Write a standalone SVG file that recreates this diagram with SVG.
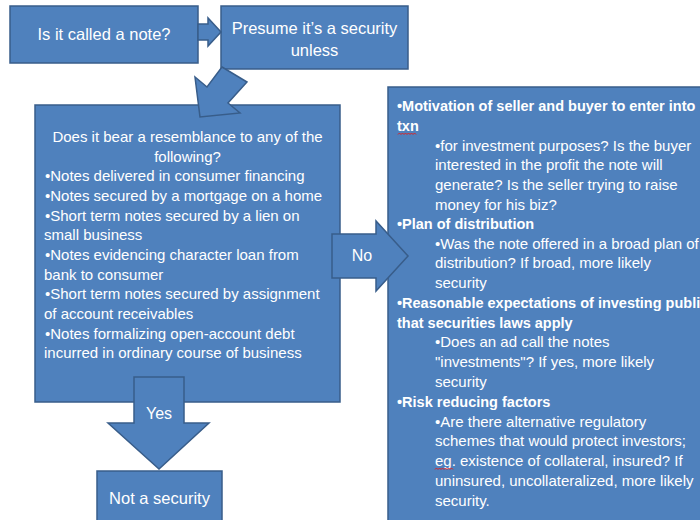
<svg xmlns="http://www.w3.org/2000/svg" width="700" height="520" viewBox="0 0 700 520">
<defs>
<style>
.box{fill:#4F81BD;stroke:#385D8A;stroke-width:1.5}
.arr{fill:#4F81BD;stroke:#385D8A;stroke-width:1.5;stroke-linejoin:miter}
text{font-family:"Liberation Sans",Arial,sans-serif;fill:#FFFFFF}
.big{font-size:16.5px;text-anchor:middle}
.lbl{font-size:16px;text-anchor:middle}
.body{font-size:15px}
.bold{font-size:14.5px;font-weight:bold}
.mid{text-anchor:middle}
.sq{fill:none;stroke:#E02020;stroke-width:1}
</style>
</defs>
<rect width="700" height="520" fill="#FFFFFF"/>
<g id="node-called-note">
<rect class="box" x="10" y="6" width="188" height="57"/>
<text class="big" x="104" y="40">Is it called a note?</text>
</g>
<g id="node-presume">
<rect class="box" x="221" y="6" width="187" height="63"/>
<text class="big" x="314.5" y="34">Presume it’s a security</text>
<text class="big" x="314.5" y="56">unless</text>
</g>
<g id="node-resemblance">
<rect class="box" x="35" y="105" width="305" height="297"/>
<g class="body">
<text class="mid" x="187.5" y="142">Does it bear a resemblance to any of the</text>
<text class="mid" x="187.5" y="162">following?</text>
<text x="45" y="181">•Notes delivered in consumer financing</text>
<text x="45" y="201">•Notes secured by a mortgage on a home</text>
<text x="45" y="221">•Short term notes secured by a lien on</text>
<text x="44" y="240">small business</text>
<text x="45" y="260">•Notes evidencing character loan from</text>
<text x="44" y="280">bank to consumer</text>
<text x="45" y="299">•Short term notes secured by assignment</text>
<text x="44" y="319">of account receivables</text>
<text x="45" y="339">•Notes formalizing open-account debt</text>
<text x="44" y="358">incurred in ordinary course of business</text>
</g>
</g>
<g id="node-factors">
<rect class="box" x="388" y="87" width="330" height="450"/>
<text class="bold" x="397" y="111">•Motivation of seller and buyer to enter into</text>
<text class="bold" x="397" y="131">txn</text>
<path class="sq" d="M398 134.5 l1.5 -1.5 l1.5 1.5 l1.5 -1.5 l1.5 1.5 l1.5 -1.5 l1.5 1.5 l1.5 -1.5 l1.5 1.5 l1.5 -1.5 l1.5 1.5 l1.5 -1.5 l1.5 1.5"/>
<g class="body">
<text x="435" y="151">•for investment purposes? Is the buyer</text>
<text x="435" y="170">interested in the profit the note will</text>
<text x="435" y="190">generate? Is the seller trying to raise</text>
<text x="435" y="210">money for his biz?</text>
</g>
<text class="bold" x="397" y="229">•Plan of distribution</text>
<g class="body">
<text x="435" y="249">•Was the note offered in a broad plan of</text>
<text x="435" y="268">distribution?  If broad, more likely</text>
<text x="435" y="288">security</text>
</g>
<text class="bold" x="397" y="308">•Reasonable expectations of investing public</text>
<text class="bold" x="397" y="328">that securities laws apply</text>
<g class="body">
<text x="435" y="347">•Does an ad call the notes</text>
<text x="435" y="367">"investments"? If yes, more likely</text>
<text x="435" y="387">security</text>
</g>
<text class="bold" x="397" y="407">•Risk reducing factors</text>
<g class="body">
<text x="435" y="427">•Are there alternative regulatory</text>
<text x="435" y="446">schemes that would protect investors;</text>
<text x="435" y="466">eg. existence of collateral, insured? If</text>
<text x="435" y="486">uninsured, uncollateralized, more likely</text>
<text x="435" y="506">security.</text>
</g>
<path class="sq" d="M435 469.5 l1.5 -1.5 l1.5 1.5 l1.5 -1.5 l1.5 1.5 l1.5 -1.5 l1.5 1.5 l1.5 -1.5 l1.5 1.5 l1.5 -1.5 l1.5 1.5 l1.5 -1.5 l1.5 1.5"/>
</g>
<g id="node-not-security">
<rect class="box" x="97" y="471" width="125" height="60"/>
<text class="big" x="159.5" y="504">Not a security</text>
</g>
<g id="connectors">
<polygon class="arr" points="198,24 208,24 208,18 221,32 208,46 208,40 198,40"/>
<polygon class="arr" points="222,67 247,82 228,103 240,113 200,117 195,77 207,87"/>
<polygon class="arr" points="332,234 376,234 376,221 408,256 376,291 376,278 332,278"/>
<text class="lbl" x="362" y="261">No</text>
<polygon class="arr" points="134,377 184,377 184,423 209,423 159,469 108,423 134,423"/>
<text class="lbl" x="159" y="419">Yes</text>
</g>
</svg>
